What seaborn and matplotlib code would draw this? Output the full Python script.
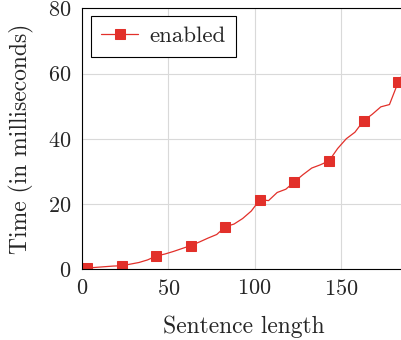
import pandas as pd
import seaborn as sb
from matplotlib import pyplot as plt

# data (line points every 5, mark every 4th point)
sentence_length = [3, 8, 13, 18, 23, 28, 33, 38, 43, 48, 53, 58, 63, 68, 73, 78,
                   83, 88, 93, 98, 103, 108, 113, 118, 123, 128, 133, 138, 143,
                   148, 153, 158, 163, 168, 173, 178, 183, 188]
time_ms = [0.3, 0.5, 0.7, 0.9, 1.0, 1.5, 2.0, 2.8, 4.0, 4.6, 5.4, 6.3, 7.2,
           8.3, 9.5, 10.6, 13.0, 13.8, 15.5, 17.8, 21.3, 21.0, 23.5, 24.5,
           26.8, 29.0, 31.0, 32.0, 33.2, 37.0, 40.0, 42.0, 45.5, 47.5, 49.8,
           50.5, 57.3, 62.0]
series_name = "enabled"

RED = "#e2302a"
FS = 17

sb.set_style("white")
plt.rcParams["font.family"] = ["cmr10", "DejaVu Serif"]
plt.rcParams["axes.formatter.use_mathtext"] = True

df = pd.DataFrame({"Sentence length": sentence_length, "Time": time_ms})

fig = plt.figure(figsize=(4.01, 3.40), dpi=100)
ax = fig.add_axes([82 / 401, 71 / 340, 1.0 - 82 / 401 + 0.01, (269 - 8.5) / 340])

sb.lineplot(data=df, x="Sentence length", y="Time", ax=ax, color=RED,
            linewidth=0.9, marker="s", markersize=7.5, markevery=4,
            markeredgecolor=RED, label=series_name, sort=False)

ax.set_xlim(0, 187)
ax.set_ylim(0, 80)
ax.set_xticks([0, 50, 100, 150])
ax.set_yticks([0, 20, 40, 60, 80])
ax.grid(True, color="#d9d9d9", linewidth=0.8)
ax.set_axisbelow(True)
ax.tick_params(direction="in", length=4, color="#999999", labelsize=16)
ax.tick_params(axis="x", pad=7)
ax.tick_params(axis="y", pad=8)
for s in ax.spines.values():
    s.set_color("black")
    s.set_linewidth(0.8)

ax.set_xlabel("Sentence length", fontsize=FS, labelpad=12)
ax.set_ylabel("Time (in milliseconds)", fontsize=FS, labelpad=10)

leg = ax.legend(loc="upper left", fontsize=16.5, fancybox=False, framealpha=1,
                edgecolor="black", borderpad=0.45, handlelength=1.6,
                handletextpad=0.5, borderaxespad=0,
                bbox_to_anchor=(0.028, 0.971))
leg.get_frame().set_linewidth(0.8)

fig.savefig("out.png", dpi=100)
